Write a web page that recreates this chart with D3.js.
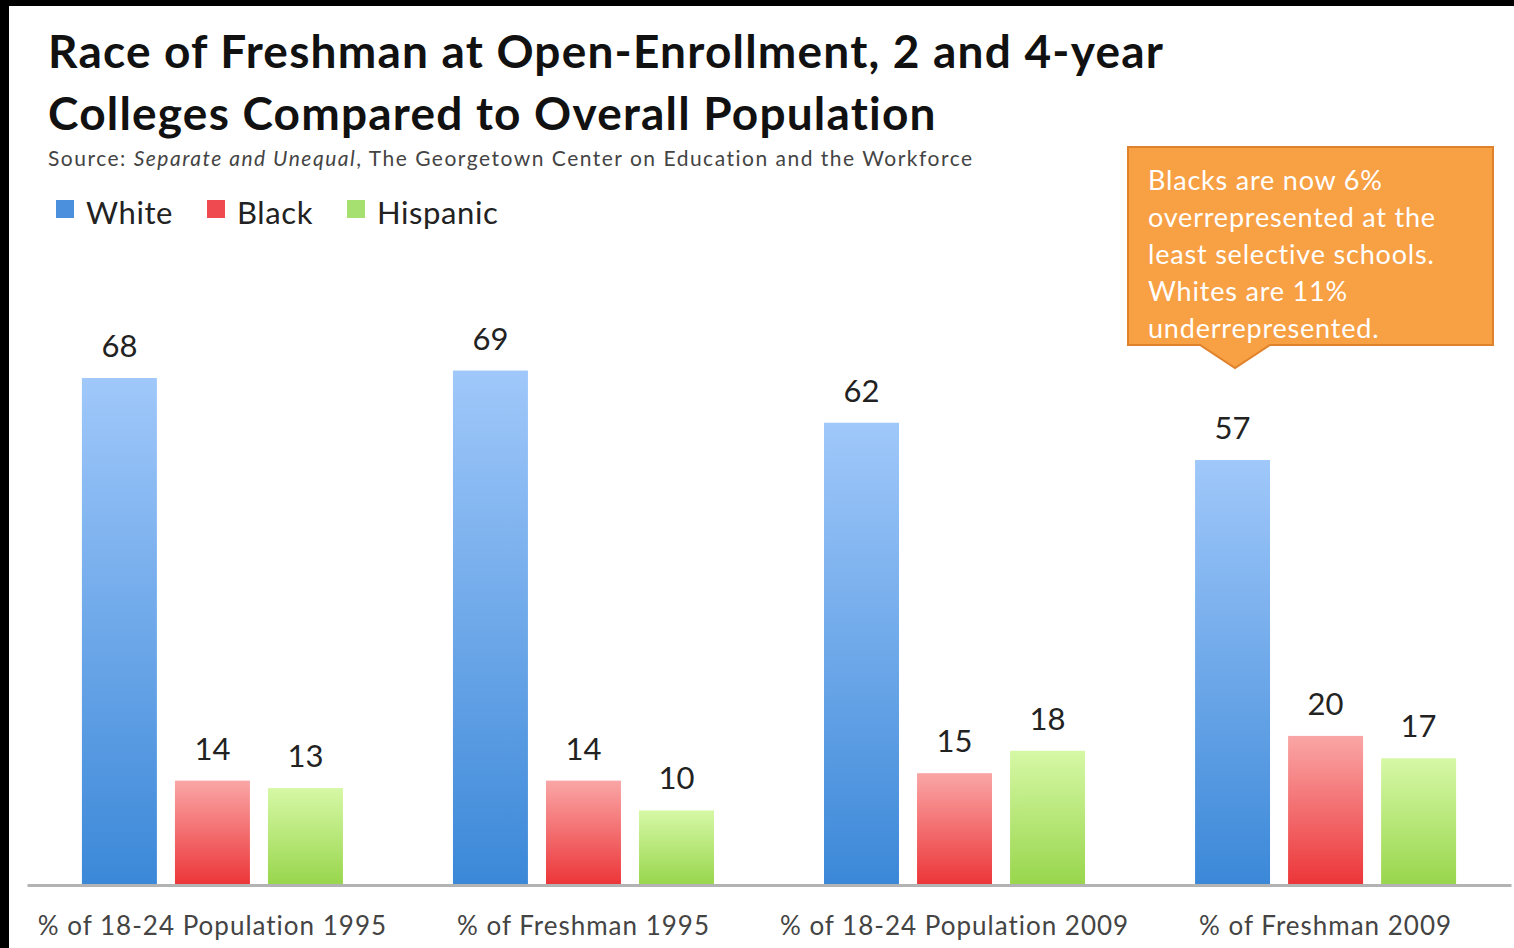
<!DOCTYPE html>
<meta charset="utf-8">
<style>
    body { margin: 0; background: #000; }
    svg text { font-family: Lato, "Open Sans", sans-serif; }
</style>
<svg width="1514" height="948"></svg>
<script src="https://cdnjs.cloudflare.com/ajax/libs/d3/7.8.5/d3.min.js"></script>
<script>

    var categories = ["% of 18-24 Population 1995", "% of Freshman 1995",
                      "% of 18-24 Population 2009", "% of Freshman 2009"];
    var series = ["White", "Black", "Hispanic"];
    var white = [68, 69, 62, 57];
    var black = [14, 14, 15, 20];
    var hispanic = [13, 10, 18, 17];
    var calloutLines = ["Blacks are now 6%", "overrepresented at the",
                        "least selective schools.", "Whites are 11%",
                        "underrepresented."];

    var values = { White: white, Black: black, Hispanic: hispanic };
    var rows = categories.map(function (c, i) {
        return { cat: c, vals: series.map(function (s) { return { key: s, value: values[s][i] }; }) };
    });

    var svg = d3.select("svg"),
        width = +svg.attr("width"),
        height = +svg.attr("height");

    // black frame top/left, white page
    svg.append("rect").attr("width", width).attr("height", height).attr("fill", "#000");
    svg.append("rect").attr("x", 9).attr("y", 6).attr("width", width - 9).attr("height", height - 6).attr("fill", "#fff");

    var gradColors = {
        White: ["#a0c8fa", "#3b88d8"],
        Black: ["#faa6a6", "#ec3538"],
        Hispanic: ["#d6f8a6", "#98d64c"]
    };
    var defs = svg.append("defs");
    series.forEach(function (s) {
        var g = defs.append("linearGradient").attr("id", "grad-" + s)
            .attr("x1", 0).attr("y1", 0).attr("x2", 0).attr("y2", 1);
        g.append("stop").attr("offset", "0%").attr("stop-color", gradColors[s][0]);
        g.append("stop").attr("offset", "100%").attr("stop-color", gradColors[s][1]);
    });
    var legendColor = { White: "#4a90dc", Black: "#ee4a50", Hispanic: "#a6e070" };

    var baseline = 885;

    var x0 = d3.scaleBand()
        .domain(categories)
        .range([27, 1511])
        .paddingInner(0.2965)
        .paddingOuter(0.148);

    var x1 = d3.scaleBand()
        .domain(series)
        .range([0, x0.bandwidth()])
        .paddingInner(0.194)
        .paddingOuter(0);

    var y = d3.scaleLinear()
        .domain([0, 68])
        .range([baseline, 378]);

    // title
    svg.append("text")
        .attr("x", 48).attr("y", 68)
        .attr("font-size", 46).attr("font-weight", "bold").attr("fill", "#111")
        .attr("letter-spacing", 1.2)
        .text("Race of Freshman at Open-Enrollment, 2 and 4-year");
    svg.append("text")
        .attr("x", 48).attr("y", 130)
        .attr("font-size", 46).attr("font-weight", "bold").attr("fill", "#111")
        .attr("letter-spacing", 1.2)
        .text("Colleges Compared to Overall Population");

    var src = svg.append("text")
        .attr("x", 48).attr("y", 166)
        .attr("font-size", 21).attr("fill", "#444")
        .attr("letter-spacing", 1.5);
    src.append("tspan").text("Source: ");
    src.append("tspan").attr("font-style", "italic").text("Separate and Unequal");
    src.append("tspan").text(", The Georgetown Center on Education and the Workforce");

    // legend
    var legendX = [56, 207, 347];
    var legend = svg.append("g").attr("class", "legend")
        .selectAll("g")
        .data(series)
        .enter().append("g")
        .attr("transform", function (d, i) { return "translate(" + legendX[i] + ",200)"; });
    legend.append("rect")
        .attr("width", 18).attr("height", 18)
        .attr("fill", function (d) { return legendColor[d]; });
    legend.append("text")
        .attr("x", 30).attr("y", 24)
        .attr("font-size", 31).attr("fill", "#222")
        .attr("letter-spacing", 0.6)
        .text(function (d) { return d; });

    // bars
    var groups = svg.append("g").attr("class", "bars")
        .selectAll("g")
        .data(rows)
        .enter().append("g")
        .attr("transform", function (d) { return "translate(" + x0(d.cat) + ",0)"; });

    groups.selectAll("rect")
        .data(function (d) { return d.vals; })
        .enter().append("rect")
        .attr("x", function (d) { return x1(d.key); })
        .attr("y", function (d) { return y(d.value); })
        .attr("width", x1.bandwidth())
        .attr("height", function (d) { return baseline - y(d.value); })
        .attr("fill", function (d) { return "url(#grad-" + d.key + ")"; });

    groups.selectAll("text")
        .data(function (d) { return d.vals; })
        .enter().append("text")
        .attr("x", function (d) { return x1(d.key) + x1.bandwidth() / 2; })
        .attr("y", function (d) { return y(d.value) - 21; })
        .attr("text-anchor", "middle")
        .attr("font-size", 31).attr("fill", "#222")
        .text(function (d) { return d.value; });

    // category axis
    var axis = svg.append("g")
        .attr("transform", "translate(0," + baseline + ")")
        .call(d3.axisBottom(x0).tickSize(0).tickPadding(32));
    axis.select(".domain").attr("stroke", "#b3b3b3").attr("stroke-width", 3);
    axis.selectAll(".tick text")
        .attr("font-family", "Lato, sans-serif")
        .attr("font-size", 26).attr("fill", "#444")
        .attr("letter-spacing", 1);

    // callout box
    var callout = svg.append("g").attr("class", "callout");
    callout.append("path")
        .attr("d", "M1128,147 H1493 V345 H1270 L1235,368 L1200,345 H1128 Z")
        .attr("fill", "#f8a044").attr("stroke", "#e0822c").attr("stroke-width", 2);
    callout.selectAll("text")
        .data(calloutLines)
        .enter().append("text")
        .attr("x", 1148)
        .attr("y", function (d, i) { return 190 + i * 37; })
        .attr("font-size", 27).attr("fill", "#fff")
        .attr("letter-spacing", 0.8)
        .text(function (d) { return d; });

</script>
